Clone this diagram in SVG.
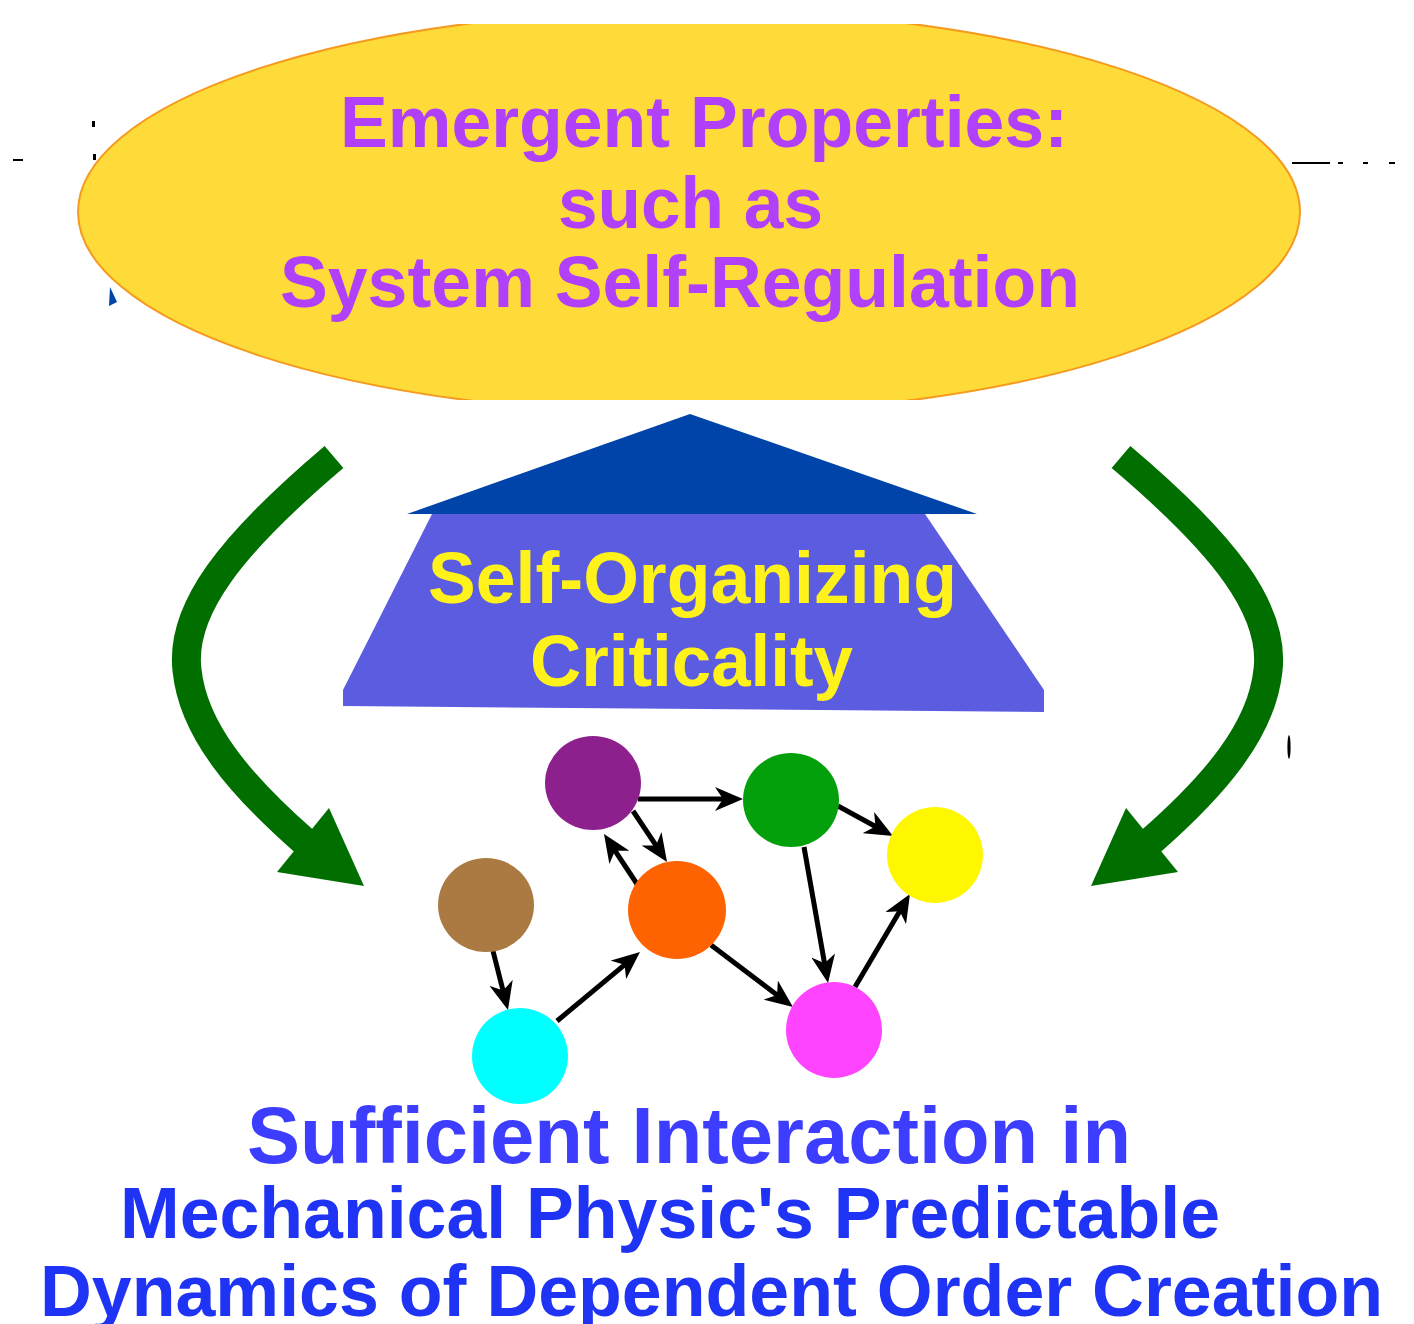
<svg xmlns="http://www.w3.org/2000/svg" width="1414" height="1324" viewBox="0 0 1414 1324">
<style>
  .t { font-family: "Liberation Sans", Arial, sans-serif; font-weight: bold; }
  .top { fill: #B040FA; font-size: 72px; }
  .soc { fill: #FFF21A; font-size: 72px; }
  .bot1 { fill: #3D3DFF; font-size: 79px; }
  .bot { fill: #1F33F5; font-size: 72px; }
  .edge { stroke: #000; stroke-width: 5; fill: none; marker-end: url(#ah); }
  .green { stroke: #006F00; stroke-width: 29; fill: none; }
  .greenhead { fill: #006F00; }
</style>
<defs>
  <marker id="ah" viewBox="0 0 28 24" refX="18" refY="12" markerWidth="28" markerHeight="24" markerUnits="userSpaceOnUse" orient="auto">
    <path d="M0,0 L28,12 L0,24 L8,12 z" fill="#000"/>
  </marker>
  <clipPath id="ellclip"><rect x="0" y="24" width="1414" height="376"/></clipPath>
</defs>
<rect width="1414" height="1324" fill="#fff"/>

<g id="artifacts">
  <rect x="92" y="121" width="3" height="6" fill="#000"/>
  <rect x="93" y="154" width="3" height="6" fill="#000"/>
  <rect x="13" y="159" width="10" height="2" fill="#000"/>
  <polygon points="110,287 117,302 109,306" fill="#0044AA"/>
  <rect x="1292" y="162" width="38" height="2" fill="#000"/>
  <rect x="1338" y="162" width="5" height="2" fill="#000"/>
  <rect x="1363" y="162" width="5" height="2" fill="#000"/>
  <rect x="1389" y="162" width="6" height="2" fill="#000"/>
  <ellipse cx="1289" cy="747" rx="1.6" ry="12" fill="#000"/>
</g>

<g id="emergent">
  <ellipse cx="689" cy="212" rx="611" ry="202" fill="#FFDB3A" stroke="#F59A1E" stroke-width="2" clip-path="url(#ellclip)"/>
  <text class="t top" x="340" y="147" textLength="728" lengthAdjust="spacingAndGlyphs">Emergent Properties:</text>
  <text class="t top" x="558" y="228" textLength="265" lengthAdjust="spacingAndGlyphs">such as</text>
  <text class="t top" x="280" y="307" textLength="800" lengthAdjust="spacingAndGlyphs">System Self-Regulation</text>
</g>

<g id="soc">
  <polygon points="432,514 925,514 1044,690 1044,712 343,706 343,690" fill="#5C5CE0"/>
  <polygon points="690,414 977,514 407,514" fill="#0044AA"/>
  <text class="t soc" x="428" y="603" textLength="529" lengthAdjust="spacingAndGlyphs">Self-Organizing</text>
  <text class="t soc" x="530" y="686" textLength="323" lengthAdjust="spacingAndGlyphs">Criticality</text>
</g>

<g id="connectors">
  <path class="green" d="M334,457 C230,545 180,610 187,670 C193,730 240,785 305,842"/>
  <polygon class="greenhead" points="277,872 329,808 364,886"/>
  <path class="green" d="M1121,457 C1225,545 1275,610 1268,670 C1262,730 1215,785 1150,842"/>
  <polygon class="greenhead" points="1178,872 1126,808 1091,886"/>
  <line class="edge" x1="638" y1="799" x2="733" y2="799"/>
  <line class="edge" x1="633" y1="811" x2="661.5" y2="853.7"/>
  <line class="edge" x1="637" y1="884" x2="609.5" y2="842.3"/>
  <line class="edge" x1="838" y1="806" x2="884.2" y2="831.2"/>
  <line class="edge" x1="804" y1="847" x2="826.3" y2="973.2"/>
  <line class="edge" x1="855" y1="987" x2="904.9" y2="902.6"/>
  <line class="edge" x1="493" y1="951" x2="505.5" y2="1000.3"/>
  <line class="edge" x1="557" y1="1021" x2="632.3" y2="958.4"/>
  <line class="edge" x1="711" y1="945" x2="785" y2="1001"/>
</g>

<g id="node-purple"><ellipse cx="593" cy="783" rx="48" ry="47" fill="#8E208E"/></g>
<g id="node-green"><ellipse cx="791" cy="800" rx="48" ry="47" fill="#04A00C"/></g>
<g id="node-yellow"><ellipse cx="935" cy="855" rx="48" ry="48" fill="#FFF700"/></g>
<g id="node-brown"><ellipse cx="486" cy="905" rx="48" ry="47" fill="#AA7A42"/></g>
<g id="node-orange"><ellipse cx="677" cy="910" rx="49" ry="49" fill="#FF6200"/></g>
<g id="node-cyan"><ellipse cx="520" cy="1056" rx="48" ry="48" fill="#00FFFF"/></g>
<g id="node-magenta"><ellipse cx="834" cy="1030" rx="48" ry="48" fill="#FF44FF"/></g>

<g id="caption">
  <text class="t bot1" x="247" y="1163" textLength="884" lengthAdjust="spacingAndGlyphs">Sufficient Interaction in</text>
  <text class="t bot" x="120" y="1238" textLength="1100" lengthAdjust="spacingAndGlyphs">Mechanical Physic's Predictable</text>
  <text class="t bot" x="40" y="1316" textLength="1343" lengthAdjust="spacingAndGlyphs">Dynamics of Dependent Order Creation</text>
</g>
</svg>
